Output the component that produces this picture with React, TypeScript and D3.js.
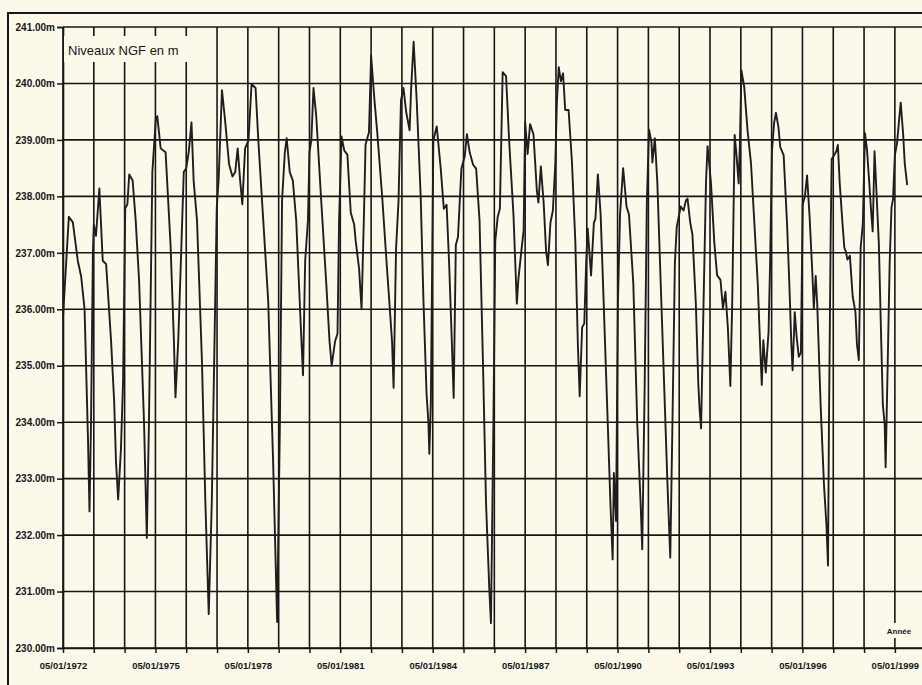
import React, { useEffect, useRef } from "react";
import * as d3 from "d3";

// decimal year of each reading (the year ticks sit on 05/01)
const years = [
  1972.0, 1972.19, 1972.32, 1972.48, 1972.59, 1972.7, 1972.81, 1972.86, 1972.91, 1972.97,
  1973.0, 1973.07, 1973.18, 1973.29, 1973.4, 1973.56, 1973.66, 1973.72, 1973.79, 1973.88,
  1973.95, 1974.02, 1974.09, 1974.15, 1974.26, 1974.36, 1974.47, 1974.63, 1974.72, 1974.79,
  1974.9, 1975.01, 1975.06, 1975.17, 1975.33, 1975.49, 1975.6, 1975.65, 1975.74, 1975.81,
  1975.92, 1976.0, 1976.08, 1976.17, 1976.24, 1976.35, 1976.51, 1976.62, 1976.73, 1976.83,
  1976.94, 1976.99, 1977.05, 1977.16, 1977.26, 1977.39, 1977.5, 1977.59, 1977.67, 1977.75,
  1977.82, 1977.91, 1978.02, 1978.12, 1978.25, 1978.34, 1978.5, 1978.66, 1978.82, 1978.95,
  1979.04, 1979.11, 1979.2, 1979.26, 1979.36, 1979.46, 1979.57, 1979.71, 1979.79, 1979.86,
  1979.95, 1980.0, 1980.06, 1980.13, 1980.22, 1980.38, 1980.54, 1980.65, 1980.72, 1980.83,
  1980.91, 1980.96, 1981.04, 1981.13, 1981.23, 1981.34, 1981.45, 1981.5, 1981.61, 1981.69,
  1981.77, 1981.82, 1981.93, 1982.0, 1982.11, 1982.2, 1982.36, 1982.5, 1982.6, 1982.68,
  1982.73, 1982.81, 1982.89, 1982.97, 1983.05, 1983.14, 1983.25, 1983.3, 1983.38, 1983.48,
  1983.61, 1983.7, 1983.8, 1983.86, 1983.89, 1983.94, 1984.02, 1984.13, 1984.26, 1984.36,
  1984.45, 1984.53, 1984.62, 1984.68, 1984.75, 1984.82, 1984.93, 1985.04, 1985.11, 1985.2,
  1985.31, 1985.41, 1985.52, 1985.63, 1985.73, 1985.84, 1985.89, 1985.97, 1986.03, 1986.11,
  1986.18, 1986.27, 1986.38, 1986.48, 1986.62, 1986.73, 1986.78, 1986.89, 1986.95, 1987.0,
  1987.08, 1987.16, 1987.27, 1987.38, 1987.43, 1987.51, 1987.6, 1987.68, 1987.74, 1987.82,
  1987.9, 1987.98, 1988.03, 1988.09, 1988.16, 1988.23, 1988.3, 1988.41, 1988.52, 1988.63,
  1988.71, 1988.77, 1988.85, 1988.92, 1988.98, 1989.03, 1989.14, 1989.23, 1989.28, 1989.36,
  1989.45, 1989.55, 1989.66, 1989.77, 1989.84, 1989.88, 1989.95, 1990.01, 1990.08, 1990.18,
  1990.29, 1990.37, 1990.51, 1990.64, 1990.75, 1990.8, 1990.88, 1990.95, 1991.02, 1991.1,
  1991.13, 1991.21, 1991.29, 1991.4, 1991.51, 1991.62, 1991.71, 1991.78, 1991.86, 1991.92,
  1992.0, 1992.05, 1992.14, 1992.22, 1992.27, 1992.36, 1992.43, 1992.54, 1992.62, 1992.66,
  1992.71, 1992.79, 1992.87, 1992.92, 1993.03, 1993.14, 1993.23, 1993.34, 1993.42, 1993.5,
  1993.58, 1993.66, 1993.72, 1993.8, 1993.86, 1993.93, 1993.97, 1994.02, 1994.11, 1994.22,
  1994.33, 1994.44, 1994.55, 1994.62, 1994.68, 1994.73, 1994.81, 1994.9, 1994.95, 1995.01,
  1995.08, 1995.14, 1995.22, 1995.28, 1995.39, 1995.5, 1995.57, 1995.64, 1995.68, 1995.75,
  1995.81, 1995.88, 1995.95, 1996.01, 1996.08, 1996.15, 1996.23, 1996.32, 1996.37, 1996.43,
  1996.48, 1996.59, 1996.7, 1996.78, 1996.83, 1996.86, 1996.92, 1996.95, 1997.03, 1997.1,
  1997.15, 1997.21, 1997.3, 1997.36, 1997.41, 1997.46, 1997.54, 1997.63, 1997.72, 1997.77,
  1997.83, 1997.89, 1997.96, 1998.03, 1998.1, 1998.17, 1998.23, 1998.28, 1998.34, 1998.39,
  1998.48, 1998.56, 1998.61, 1998.67, 1998.7, 1998.78, 1998.83, 1998.89, 1998.94, 1999.0,
  1999.07, 1999.14, 1999.19, 1999.27, 1999.32, 1999.4,
];

// water level, m NGF
const levels = [
  235.86, 237.64, 237.54, 236.86, 236.58, 236.0, 233.73, 232.42, 234.0, 237.0,
  237.5, 237.3, 238.14, 236.86, 236.8, 235.44, 234.37, 233.3, 232.63, 233.52,
  234.73, 237.79, 237.86, 238.39, 238.28, 237.57, 236.5, 234.0, 231.95, 234.0,
  238.43, 239.35, 239.42, 238.85, 238.78, 237.15, 235.44, 234.44, 235.44, 236.58,
  238.43, 238.5, 238.78, 239.31, 238.28, 237.57, 235.08, 232.6, 230.6, 232.6,
  236.15, 237.79, 238.28, 239.88, 239.35, 238.57, 238.35, 238.43, 238.85, 238.28,
  237.86, 238.85, 238.99, 239.99, 239.92, 238.99, 237.57, 236.15, 233.3, 230.46,
  234.0, 237.93, 238.78, 239.03, 238.43, 238.28, 237.57, 235.8, 234.83, 236.86,
  237.57, 238.78, 238.99, 239.92, 239.42, 237.93, 236.5, 235.44, 235.0, 235.43,
  235.57, 237.57, 239.06, 238.81, 238.74, 237.71, 237.5, 237.21, 236.72, 236.0,
  237.71, 238.92, 239.13, 240.49, 239.7, 239.13, 237.99, 236.85, 236.07, 235.43,
  234.61, 237.07, 237.92, 239.7, 239.92, 239.49, 239.17, 239.92, 240.74, 239.7,
  237.99, 236.14, 234.5, 234.0, 233.44, 234.36, 238.99, 239.24, 238.49, 237.78,
  237.85, 236.85, 235.43, 234.43, 237.14, 237.28, 238.49, 238.71, 239.1, 238.78,
  238.56, 238.49, 237.57, 235.07, 232.57, 231.0, 230.44, 234.0, 237.21, 237.64,
  237.78, 240.2, 240.13, 238.99, 237.68, 236.1, 236.53, 237.1, 237.39, 239.32,
  238.75, 239.28, 239.1, 238.1, 237.89, 238.53, 237.89, 237.03, 236.78, 237.53,
  237.75, 238.6, 239.67, 240.29, 240.04, 240.18, 239.53, 239.53, 238.6, 237.18,
  235.39, 234.46, 235.68, 235.75, 236.82, 237.43, 236.6, 237.53, 237.6, 238.39,
  237.68, 236.1, 234.32, 232.53, 231.57, 233.1, 232.25, 236.1, 237.68, 238.5,
  237.82, 237.68, 236.46, 233.96, 232.53, 231.75, 234.68, 237.89, 239.18, 238.96,
  238.6, 239.03, 238.25, 236.46, 234.68, 232.89, 231.6, 233.96, 236.82, 237.46,
  237.68, 237.82, 237.75, 237.93, 237.96, 237.53, 237.32, 236.1, 234.68, 234.25,
  233.89, 236.1, 238.25, 238.89, 238.25, 237.18, 236.6, 236.52, 236.02, 236.31,
  235.67, 234.64, 236.09, 239.09, 238.73, 238.23, 238.94, 240.23, 239.94, 239.16,
  238.59, 237.52, 236.45, 235.45, 234.66, 235.45, 234.88, 235.59, 236.8, 238.8,
  239.3, 239.48, 239.23, 238.87, 238.73, 237.52, 236.52, 235.38, 234.92, 235.95,
  235.52, 235.16, 235.23, 237.86, 238.0, 238.37, 237.66, 236.66, 236.02, 236.59,
  236.09, 234.31, 232.88, 232.17, 231.46, 233.95, 237.52, 238.66, 238.73, 238.8,
  238.91, 238.23, 237.52, 237.09, 237.02, 236.88, 236.95, 236.23, 235.95, 235.38,
  235.1, 237.09, 237.52, 239.12, 238.8, 238.23, 237.73, 237.38, 238.8, 238.23,
  237.16, 235.38, 234.31, 233.95, 233.2, 235.38, 236.8, 237.8, 237.95, 238.73,
  238.94, 239.37, 239.66, 239.09, 238.59, 238.2,
];

const levelTicks = [230, 231, 232, 233, 234, 235, 236, 237, 238, 239, 240, 241];
const gridYears = [
  1972, 1973, 1974, 1975, 1976, 1977, 1978, 1979, 1980, 1981, 1982, 1983, 1984, 1985,
  1986, 1987, 1988, 1989, 1990, 1991, 1992, 1993, 1994, 1995, 1996, 1997, 1998, 1999, 2000,
];
const labelYears = [1972, 1975, 1978, 1981, 1984, 1987, 1990, 1993, 1996, 1999];

const App = () => {
  const svgRef = useRef(null);

  useEffect(() => {
    const width = 922;
    const height = 685;
    const marginLeft = 63;
    const marginTop = 27;
    const plotBottom = 648;
    const paper = "#fcf9eb";
    const ink = "#161616";
    const font = "'Liberation Sans', Arial, sans-serif";

    const x = d3
      .scaleLinear()
      .domain([1972, 2000])
      .range([marginLeft, marginLeft + 28 * 30.81]);
    const y = d3.scaleLinear().domain([230, 241]).range([plotBottom, marginTop]);

    const svg = d3.select(svgRef.current);
    svg.selectAll("*").remove();
    svg
      .attr("width", width)
      .attr("height", height)
      .attr("viewBox", [0, 0, width, height])
      .style("background", paper);

    // outer frame of the scanned sheet (only top and left are in the picture)
    svg
      .append("path")
      .attr("d", `M8,${height + 5}V13H${width + 5}`)
      .attr("fill", "none")
      .attr("stroke", ink)
      .attr("stroke-width", 2);

    // grid
    const grid = svg.append("g").attr("stroke", ink).attr("stroke-width", 1.6);
    grid
      .selectAll("line.h")
      .data(levelTicks)
      .join("line")
      .attr("class", "h")
      .attr("x1", marginLeft)
      .attr("x2", width + 5)
      .attr("y1", (d) => y(d))
      .attr("y2", (d) => y(d));
    grid
      .selectAll("line.v")
      .data(gridYears)
      .join("line")
      .attr("class", "v")
      .attr("x1", (d) => x(d))
      .attr("x2", (d) => x(d))
      .attr("y1", marginTop)
      .attr("y2", plotBottom);

    // y axis: outer ticks + labels
    svg
      .append("g")
      .attr("transform", `translate(${marginLeft},0)`)
      .call(
        d3
          .axisLeft(y)
          .tickValues(levelTicks)
          .tickSize(6)
          .tickPadding(2)
          .tickFormat((d) => `${d3.format(".2f")(d)}m`),
      )
      .call((g) => g.select(".domain").attr("stroke", ink).attr("stroke-width", 1.6))
      .call((g) => g.selectAll(".tick line").attr("stroke", ink).attr("stroke-width", 1.5))
      .call((g) =>
        g
          .selectAll(".tick text")
          .attr("fill", ink)
          .style("font", `bold 10px ${font}`),
      );

    // x axis: a tick every year, label every third year
    svg
      .append("g")
      .attr("transform", `translate(0,${plotBottom})`)
      .call(
        d3
          .axisBottom(x)
          .tickValues(gridYears)
          .tickSize(5)
          .tickSizeOuter(0)
          .tickPadding(9)
          .tickFormat((d) => (labelYears.includes(d) ? `05/01/${d}` : "")),
      )
      .call((g) => g.select(".domain").attr("stroke", ink).attr("stroke-width", 1.6))
      .call((g) => g.selectAll(".tick line").attr("stroke", ink).attr("stroke-width", 1.5))
      .call((g) =>
        g
          .selectAll(".tick text")
          .attr("fill", ink)
          .style("font", `bold 9.5px ${font}`),
      );

    // level series
    const line = d3
      .line()
      .x((d, i) => x(years[i]))
      .y((d) => y(d));
    svg
      .append("path")
      .attr("fill", "none")
      .attr("stroke", "#1e1e1e")
      .attr("stroke-width", 1.9)
      .attr("stroke-linejoin", "round")
      .attr("d", line(levels));

    // title box over the grid
    svg
      .append("rect")
      .attr("x", marginLeft + 1)
      .attr("y", 36)
      .attr("width", 138)
      .attr("height", 26)
      .attr("fill", paper);
    svg
      .append("text")
      .attr("x", 68)
      .attr("y", 55)
      .attr("fill", ink)
      .style("font", `13px ${font}`)
      .text("Niveaux NGF en m");

    // axis name
    svg
      .append("rect")
      .attr("x", 883)
      .attr("y", 623)
      .attr("width", 33)
      .attr("height", 15)
      .attr("fill", paper);
    svg
      .append("text")
      .attr("x", 899)
      .attr("y", 634)
      .attr("text-anchor", "middle")
      .attr("fill", ink)
      .style("font", `bold 8px ${font}`)
      .text("Année");
  }, []);

  return (
    <div style={{ position: "absolute", left: 0, top: 0 }}>
      <svg ref={svgRef} style={{ display: "block" }} />
    </div>
  );
};

export default App;
